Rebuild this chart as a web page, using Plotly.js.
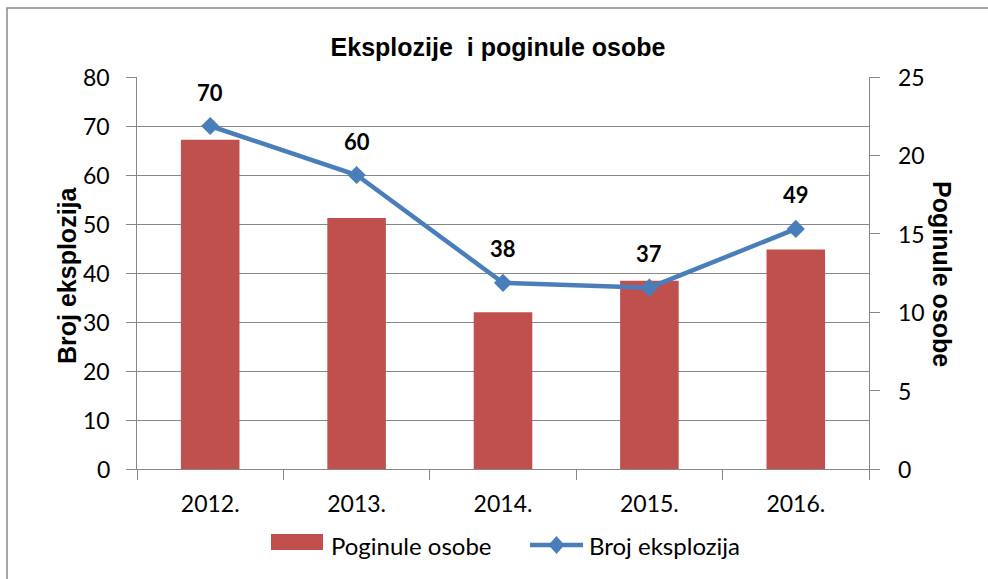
<!DOCTYPE html>
<html>
<head>
<meta charset="utf-8">
<script src="https://cdn.plot.ly/plotly-3.0.1.min.js"></script>
<style>
html,body{margin:0;padding:0;background:#fff;}
#chart{width:988px;height:579px;}
</style>
</head>
<body>
<div id="chart"></div>
<script>
// ---- data ----
const years = ["2012.", "2013.", "2014.", "2015.", "2016."];
const poginuleOsobe = [21, 16, 10, 12, 14];        // bars, right axis
const brojEksplozija = [70, 60, 38, 37, 49];       // line, left axis
const leftTicks = [0, 10, 20, 30, 40, 50, 60, 70, 80];
const rightTicks = [0, 5, 10, 15, 20, 25];
const chartTitle = "Eksplozije  i poginule osobe";
const leftTitle = "Broj eksplozija";
const rightTitle = "Poginule osobe";
const barName = "Poginule osobe";
const lineName = "Broj eksplozija";

// ---- styles ----
const GRAY = "#878787";
const RED = "#C0504D";
const BLUE = "#4A7EBB";
const CAL = "Lato, 'Open Sans', sans-serif";
const ARIAL = "'Liberation Sans', Arial, sans-serif";

// plot area pixel geometry (for legend/border/label placement)
const L = 137, R = 869, T = 77, B = 469;
const W = R - L, H = B - T;
const px = X => (X - L) / W;
const py = Y => (B - Y) / H;

const traces = [
  { // invisible carrier for the base (left, gridded) axis
    type: "scatter", mode: "none", x: years, y: brojEksplozija,
    xaxis: "x", yaxis: "y", hoverinfo: "skip", showlegend: false
  },
  {
    type: "bar", x: years, y: poginuleOsobe, name: barName,
    xaxis: "x", yaxis: "y2",
    marker: {color: RED}, showlegend: false,
    hovertemplate: "%{x}: %{y}<extra>" + barName + "</extra>"
  },
  {
    type: "scatter", mode: "lines+markers", x: years, y: brojEksplozija, name: lineName,
    xaxis: "x", yaxis: "y3",
    line: {color: BLUE, width: 4.5},
    marker: {symbol: "diamond", size: 14, color: BLUE},
    showlegend: false,
    hovertemplate: "%{x}: %{y}<extra>" + lineName + "</extra>"
  }
];

// data labels above the line points
const annotations = years.map((yr, i) => ({
  x: i, y: brojEksplozija[i], xref: "x", yref: "y",
  text: "<b>" + brojEksplozija[i] + "</b>",
  showarrow: false, yshift: 34, yanchor: "middle",
  font: {family: CAL, size: 22, color: "#000"}
}));

// left tick labels (placed on the left axis scale)
leftTicks.forEach(v => annotations.push({
  xref: "paper", yref: "y", x: px(112), y: v, text: String(v),
  showarrow: false, xanchor: "right", yanchor: "middle",
  font: {family: CAL, size: 23, color: "#000"}
}));
// right tick labels (placed on the right axis scale)
rightTicks.forEach(v => annotations.push({
  xref: "paper", yref: "y2", x: px(896), y: v, text: String(v),
  showarrow: false, xanchor: "left", yanchor: "middle",
  font: {family: CAL, size: 23, color: "#000"}
}));

// axis titles
annotations.push({
  xref: "paper", yref: "paper", x: px(67), y: py(275),
  text: "<b>" + leftTitle + "</b>", textangle: -90, showarrow: false,
  xanchor: "center", yanchor: "middle",
  font: {family: ARIAL, size: 25, color: "#000"}
});
annotations.push({
  xref: "paper", yref: "paper", x: px(942), y: py(274),
  text: "<b>" + rightTitle + "</b>", textangle: 90, showarrow: false,
  xanchor: "center", yanchor: "middle",
  font: {family: ARIAL, size: 25, color: "#000"}
});

// custom legend text
annotations.push({
  xref: "paper", yref: "paper", x: px(329), y: py(545),
  text: barName, showarrow: false, xanchor: "left", yanchor: "middle",
  font: {family: CAL, size: 24, color: "#000"}
});
annotations.push({
  xref: "paper", yref: "paper", x: px(587), y: py(545),
  text: lineName, showarrow: false, xanchor: "left", yanchor: "middle",
  font: {family: CAL, size: 24, color: "#000"}
});

const shapes = [
  // chart outer border
  {type: "rect", xref: "paper", yref: "paper",
   x0: px(7), x1: px(1100), y0: py(8), y1: py(700),
   line: {color: "#8a8a8a", width: 1.5}, fillcolor: "rgba(0,0,0,0)", layer: "below"},
  // legend: red block
  {type: "rect", xref: "paper", yref: "paper",
   x0: px(271), x1: px(323), y0: py(550), y1: py(534),
   line: {width: 0}, fillcolor: RED},
  // legend: blue line
  {type: "line", xref: "paper", yref: "paper",
   x0: px(530), x1: px(583), y0: py(545), y1: py(545),
   line: {color: BLUE, width: 4.5}},
  // legend: diamond
  {type: "path", xref: "paper", yref: "paper",
   path: "M" + px(556.5) + "," + py(536) + " L" + px(564.5) + "," + py(545) +
         " L" + px(556.5) + "," + py(554) + " L" + px(548.5) + "," + py(545) + " Z",
   fillcolor: BLUE, line: {width: 0}}
];

const layout = {
  width: 988, height: 579,
  margin: {l: L, r: 988 - R, t: T, b: 579 - B, pad: 0},
  paper_bgcolor: "#fff", plot_bgcolor: "#fff",
  showlegend: false,
  bargap: 0.6,
  title: {
    text: "<b>" + chartTitle + "</b>",
    font: {family: ARIAL, size: 25, color: "#000"},
    x: 498 / 988, xanchor: "center", xref: "container",
    y: 1 - 47 / 579, yanchor: "middle", yref: "container"
  },
  xaxis: {
    type: "category", categoryorder: "array", categoryarray: years,
    range: [-0.5, years.length - 0.5],
    showline: true, linecolor: GRAY, linewidth: 1.3,
    ticks: "outside", tickson: "boundaries", ticklen: 10, tickcolor: GRAY, tickwidth: 1.3,
    showgrid: false, zeroline: false, tickangle: 0,
    tickfont: {family: CAL, size: 23, color: "#000"},
    ticklabelstandoff: 14,
    fixedrange: true
  },
  yaxis: {
    side: "left", range: [0, 80], tickvals: leftTicks,
    showticklabels: false,
    showline: true, linecolor: GRAY, linewidth: 1.3,
    ticks: "outside", ticklen: 10, tickcolor: GRAY, tickwidth: 1.3,
    showgrid: true, gridcolor: GRAY, gridwidth: 1.3, zeroline: false,
    fixedrange: true
  },
  yaxis2: {
    overlaying: "y", side: "right", range: [0, 25], tickvals: rightTicks,
    showticklabels: false,
    showline: true, linecolor: GRAY, linewidth: 1.3,
    ticks: "outside", ticklen: 10, tickcolor: GRAY, tickwidth: 1.3,
    showgrid: false, zeroline: false,
    fixedrange: true
  },
  yaxis3: {
    overlaying: "y", side: "left", range: [0, 80],
    showticklabels: false, showline: false, ticks: "", showgrid: false, zeroline: false, fixedrange: true
  },
  annotations: annotations,
  shapes: shapes
};

Plotly.newPlot("chart", traces, layout, {displayModeBar: false});
</script>
</body>
</html>
